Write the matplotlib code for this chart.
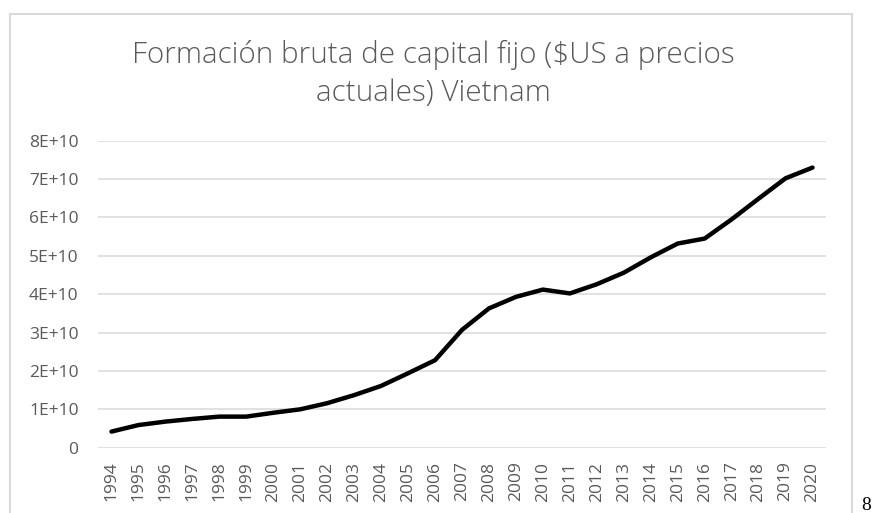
import matplotlib
matplotlib.use('Agg')
import matplotlib.pyplot as plt
from matplotlib.patches import Rectangle

years = [str(y) for y in range(1994, 2021)]
values = [4.2e9, 5.9e9, 6.8e9, 7.5e9, 8.1e9, 8.1e9, 9.1e9, 1.0e10, 1.16e10,
          1.37e10, 1.61e10, 1.94e10, 2.28e10, 3.07e10, 3.63e10, 3.93e10,
          4.12e10, 4.02e10, 4.26e10, 4.56e10, 4.96e10, 5.32e10, 5.45e10,
          5.95e10, 6.49e10, 7.02e10, 7.30e10]
ytick_vals = [0, 1e10, 2e10, 3e10, 4e10, 5e10, 6e10, 7e10, 8e10]
ytick_labels = ['0', '1E+10', '2E+10', '3E+10', '4E+10', '5E+10', '6E+10', '7E+10', '8E+10']
title_lines = ['Formación bruta de capital fijo ($US a precios', 'actuales) Vietnam']

grey = '#595959'
W, H = 874, 513

fig = plt.figure(figsize=(W / 100, H / 100), dpi=100)
ax = fig.add_axes([98 / W, 1 - 447.7 / H, (826 - 98) / W, (447.7 - 140.7) / H])

# chart frame (excel style)
fig.patches.append(Rectangle((10 / W, -0.05), (852 - 10) / W, 1.05 - 14 / H,
                             transform=fig.transFigure, fill=False,
                             edgecolor='#d9d9d9', linewidth=1.5))

x = list(range(len(years)))
ax.plot(x, values, color='black', linewidth=3.2, solid_capstyle='round',
        solid_joinstyle='round', zorder=3)

ax.set_xlim(-0.5, len(years) - 0.5)
ax.set_ylim(0, 8e10)
ax.set_yticks(ytick_vals)
ax.set_yticklabels(ytick_labels)
ax.set_xticks(x)
ax.set_xticklabels(years, rotation=90)
ax.tick_params(axis='both', length=0, colors=grey, labelsize=12.5)
ax.tick_params(axis='y', pad=14)
ax.tick_params(axis='x', pad=10)
for lab in ax.get_xticklabels() + ax.get_yticklabels():
    lab.set_fontfamily('Open Sans')
ax.grid(axis='y', color='#d9d9d9', linewidth=1.1)
ax.set_axisbelow(True)
for s in ax.spines.values():
    s.set_visible(False)

# title, two centred lines
for line, base in zip(title_lines, [63, 101]):
    fig.text(433 / W, 1 - base / H, line, ha='center', va='baseline', color=grey,
             fontsize=21.3, fontfamily='Open Sans', fontweight='light')

fig.text(866 / W, 1 - 510 / H, '8', ha='center', va='baseline', color='black',
         fontsize=14, fontfamily='Liberation Serif')

fig.savefig('out.png', dpi=100)
